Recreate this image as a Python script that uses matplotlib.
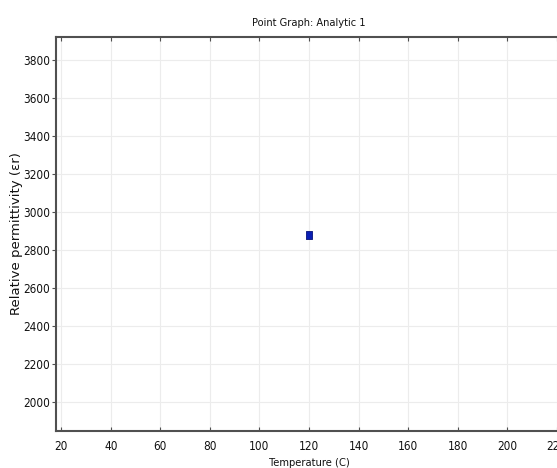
import matplotlib
matplotlib.use("Agg")
import matplotlib.pyplot as plt

# Single analytic point: relative permittivity at a given temperature
temperature = [120]
permittivity = [2880]

x_ticks = [20, 40, 60, 80, 100, 120, 140, 160, 180, 200, 220]
y_ticks = [2000, 2200, 2400, 2600, 2800, 3000, 3200, 3400, 3600, 3800]

cond = dict(family="DejaVu Sans", stretch="condensed")

fig = plt.figure(figsize=(5.57, 4.68), dpi=100)
fig.patch.set_facecolor("white")
ax = fig.add_axes([0.1005, 0.079, 0.9085, 0.8426])

# slightly tall rectangular point marker
rect_marker = [(-0.7, -1.0), (0.7, -1.0), (0.7, 1.0), (-0.7, 1.0), (-0.7, -1.0)]
ax.plot(temperature, permittivity, linestyle="none", marker=rect_marker,
        markersize=5.2, markerfacecolor="#0a1fb4", markeredgecolor="#06127a",
        markeredgewidth=0.6)

ax.set_xlim(17.86, 222.14)
ax.set_ylim(1846, 3923)
ax.set_xticks(x_ticks)
ax.set_yticks(y_ticks)

ax.grid(True, color="#ececec", linewidth=0.8)
ax.set_axisbelow(True)

for side in ("left", "bottom", "top", "right"):
    ax.spines[side].set_color("#505050")
    ax.spines[side].set_linewidth(1.5)

ax.tick_params(axis="x", which="major", direction="in", length=3,
               top=True, bottom=True, color="#505050", width=0.8,
               labelsize=8.5, pad=6.5)
ax.tick_params(axis="y", which="major", direction="out", length=3,
               left=True, right=False, color="#505050", width=0.8,
               labelsize=8.5, pad=1)
for lbl in ax.get_xticklabels() + ax.get_yticklabels():
    lbl.set_fontfamily("DejaVu Sans")
    lbl.set_fontstretch("condensed")
    lbl.set_color("#111111")

ax.set_xlabel("Temperature (C)", fontsize=8, color="#111111", labelpad=3.8,
              **cond)
ax.set_ylabel("Relative permittivity (εr)", fontsize=9.5, color="#111111",
              family="DejaVu Sans", labelpad=0)
ax.set_title("Point Graph: Analytic 1", fontsize=7.9, color="#111111",
             pad=8, **cond)

fig.savefig("out.png", dpi=100, facecolor="white")
